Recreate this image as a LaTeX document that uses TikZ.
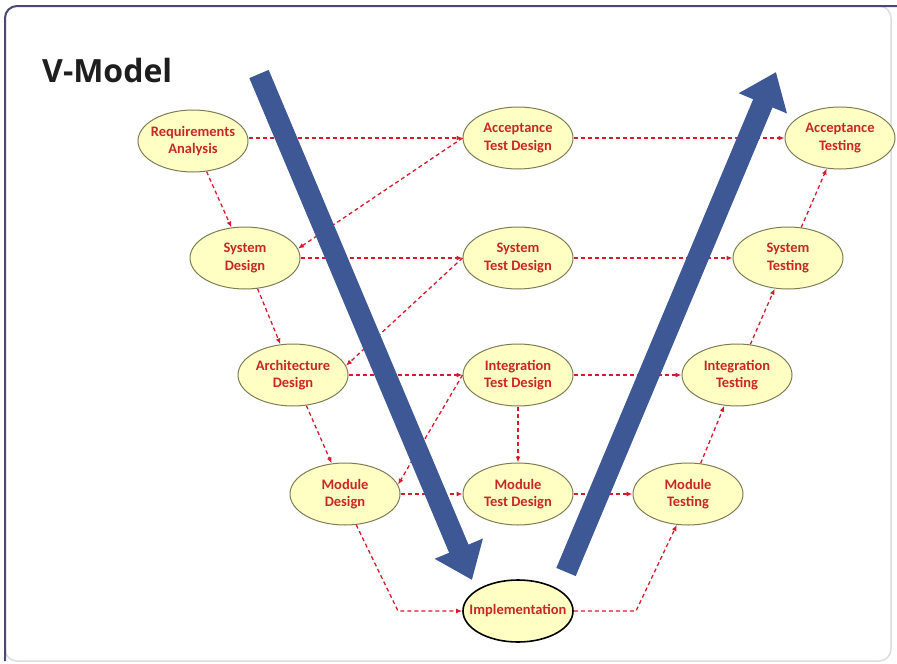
\documentclass[tikz,border=0pt]{standalone}
\usepackage{fontspec}
\setmainfont{Carlito}
\newfontfamily\titlefont{Open Sans}
\usetikzlibrary{shapes.geometric,arrows.meta,calc}

\definecolor{nodefill}{RGB}{255,255,196}
\definecolor{nodeline}{RGB}{125,125,85}
\definecolor{labelred}{RGB}{200,40,35}
\definecolor{flowred}{RGB}{212,28,45}
\definecolor{vblue}{RGB}{62,88,150}
\definecolor{framedark}{RGB}{72,72,112}
\definecolor{framelight}{RGB}{220,220,226}
\definecolor{titleblack}{RGB}{30,30,30}

\begin{document}
\begin{tikzpicture}[x=1pt,y=-1pt,
  phase/.style={ellipse, draw=nodeline, line width=1pt, fill=nodefill,
    minimum width=110pt, minimum height=62pt, inner xsep=-20pt, inner ysep=0pt,
    align=center, text=labelred, font=\fontsize{14.5}{17.5}\selectfont\bfseries},
  flow/.style={draw=flowred, line width=1.3pt, dash pattern=on 4pt off 3pt,
    -{Latex[length=6pt,width=5pt]}},
  vshaft/.style={draw=vblue, line width=21pt, -{Triangle[length=34pt,width=50pt]}},
]
\useasboundingbox (0,0) rectangle (897,664);

% frame
\draw[framelight, line width=1.5pt, rounded corners=12pt]
  (5,600) -- (5,661) -- (891,661) -- (891,6) -- (800,6);
\draw[framedark, line width=2pt, rounded corners=12pt]
  (5,661) -- (5,6) -- (897,6);

% title
\node[anchor=base west, inner sep=0pt, text=titleblack,
  font=\titlefont\bfseries\fontsize{32}{38}\selectfont] (title) at (42,82) {V-Model};

% design branch
\node[phase] (req)  at (193,141) {Requirements\\Analysis};
\node[phase] (sysd) at (245,258) {System\\Design};
\node[phase] (arch) at (293,375) {Architecture\\Design};
\node[phase] (modd) at (345,494) {Module\\Design};

% test design column
\node[phase] (acctd) at (518,138) {Acceptance\\Test Design};
\node[phase] (systd) at (518,258) {System\\Test Design};
\node[phase] (inttd) at (518,375) {Integration\\Test Design};
\node[phase] (modtd) at (518,494) {Module\\Test Design};

% testing branch
\node[phase] (acct) at (840,138) {Acceptance\\Testing};
\node[phase] (syst) at (788,258) {System\\Testing};
\node[phase] (intt) at (737,375) {Integration\\Testing};
\node[phase] (modt) at (688,494) {Module\\Testing};

% bottom of the V
\node[phase, draw=black, line width=1.6pt] (impl) at (518,611) {Implementation};

\coordinate (c1) at (398,611);
\coordinate (c2) at (636,611);

% horizontal flows
\draw[flow] (req.east |- acctd.west) -- (acctd.west);
\draw[flow] (acctd) -- (acct);
\draw[flow] (sysd) -- (systd);
\draw[flow] (systd) -- (syst);
\draw[flow] (arch) -- (inttd);
\draw[flow] (inttd) -- (intt);
\draw[flow] (modd) -- (modtd);
\draw[flow] (modtd) -- (modt);

% down the left side
\draw[flow] (req) -- (sysd);
\draw[flow] (sysd) -- (arch);
\draw[flow] (arch) -- (modd);
\draw[flow] (modd.290) -- (c1) -- (impl.west);

% back from the test designs
\draw[flow] (acctd.west) -- (sysd.10);
\draw[flow] (systd.west) -- (arch.10);
\draw[flow] (inttd.west) -- (modd.10);
\draw[flow] (inttd) -- (modtd);

% up the right side
\draw[flow] (impl.east) -- (c2) -- (modt.250);
\draw[flow] (modt) -- (intt);
\draw[flow] (intt) -- (syst);
\draw[flow] (syst) -- (acct);

% the two big arrows of the V
\coordinate (dtail) at (259,74);
\coordinate (dtip)  at (472,580);
\coordinate (utail) at (566,572);
\coordinate (utip)  at (776,72);
\draw[vshaft] (dtail) -- (dtip);
\draw[vshaft] (utail) -- (utip);
\end{tikzpicture}
\end{document}
